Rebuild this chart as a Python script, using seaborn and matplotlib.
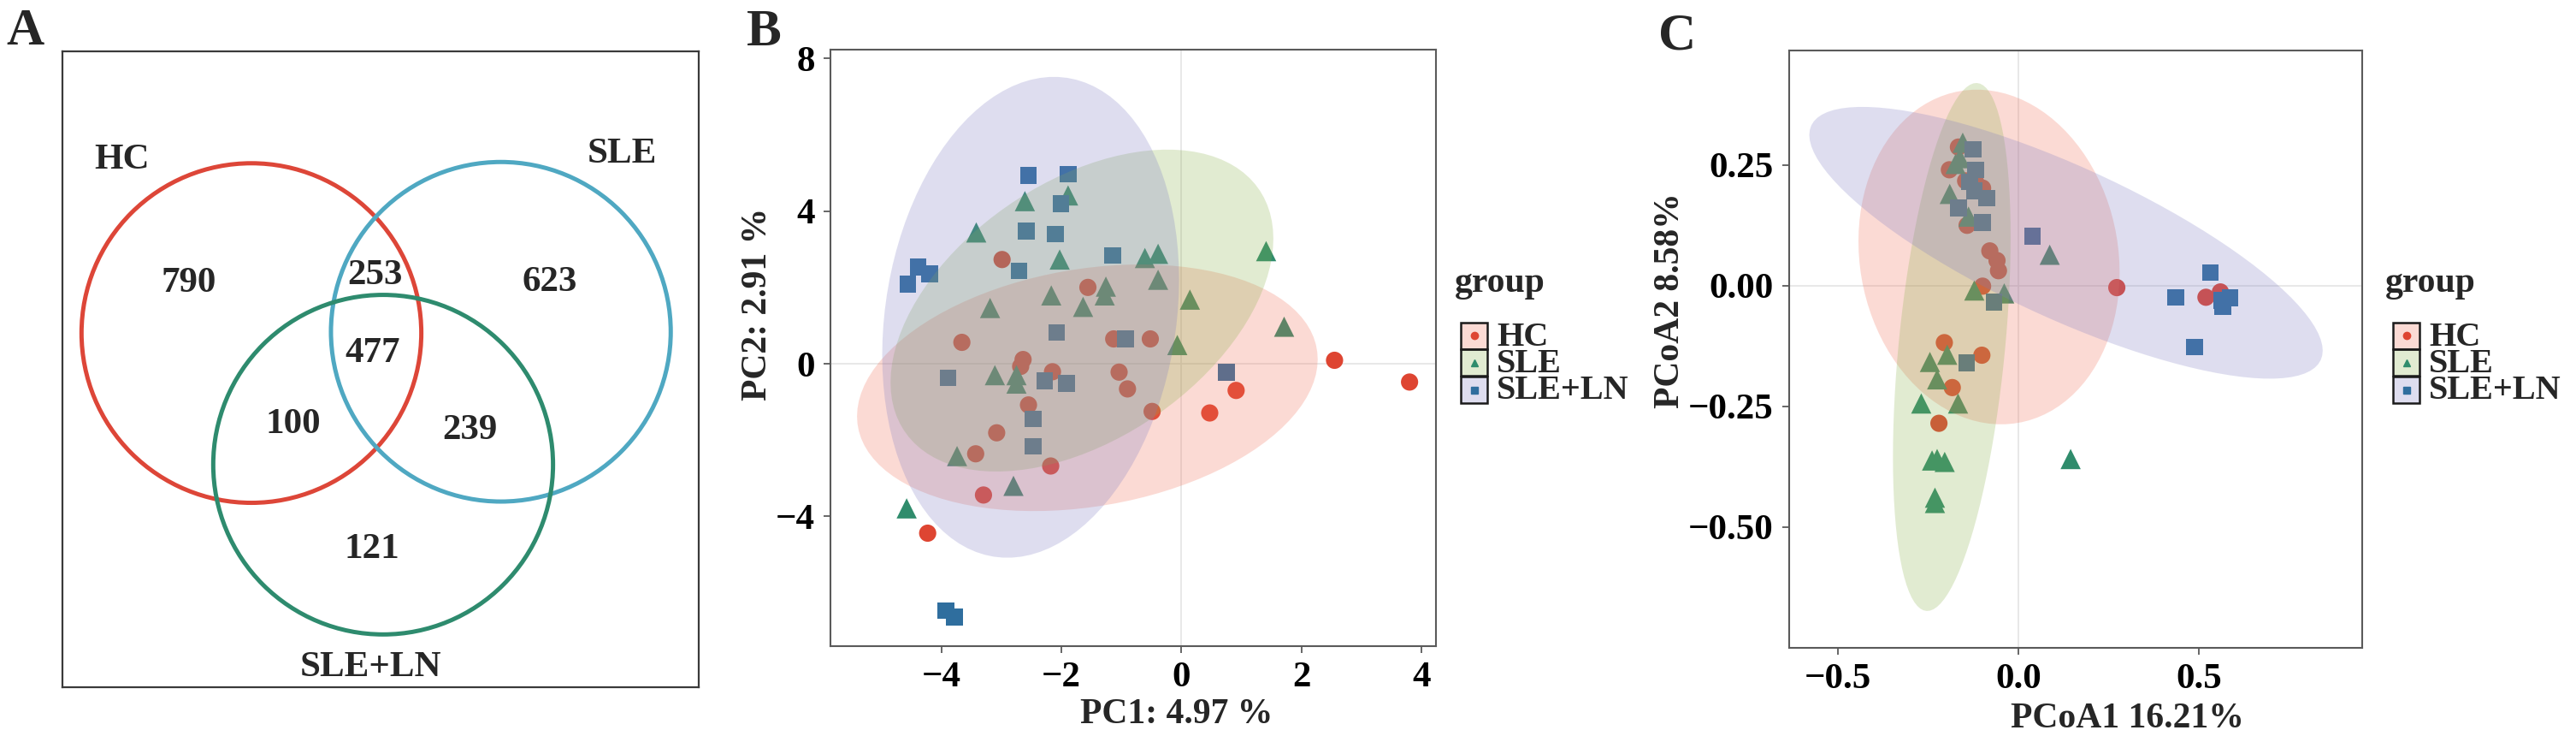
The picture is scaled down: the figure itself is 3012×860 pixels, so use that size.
import numpy as np
import pandas as pd
import matplotlib
matplotlib.use("Agg")
import matplotlib.pyplot as plt
from matplotlib.patches import Circle, Polygon, Rectangle
from matplotlib.lines import Line2D
import seaborn as sns

# ---- data ----
groups = ['HC', 'SLE', 'SLE+LN']
point_colors = ['#DE4532', '#2F8C6C', '#2F6E9E']
fill_colors = ['#F26E55', '#8AB04A', '#7C7BC2']
markers = ['o', '^', 's']
marker_sizes = [210, 290, 200]

# Venn (A)
venn_sets = ['HC', 'SLE', 'SLE+LN']
venn_colors = ['#DD4638', '#4FA8C2', '#2E8B6E']
venn_counts = [790, 253, 623, 477, 100, 239, 121]  # HC, HC&SLE, SLE, all, HC&LN, SLE&LN, LN

# PCA (B)
pca_hc_x = [-2.99, -1.56, -3.66, -1.13, -2.64, -2.68, -2.15, -1.04, -0.90, -0.52, 2.55,
            0.91, -2.55, -0.49, -3.08, -3.43, -2.18, -3.30, -4.23, 0.47, 3.80]
pca_hc_y = [2.73, 2.00, 0.56, 0.65, 0.11, -0.07, -0.21, -0.22, -0.66, 0.65, 0.09,
            -0.70, -1.08, -1.25, -1.81, -2.36, -2.68, -3.44, -4.44, -1.29, -0.48]
pca_sle_x = [-2.61, -1.89, -3.42, -2.03, -2.17, -1.64, -1.26, -1.28, -3.19, -3.11, -2.75,
             -2.75, -0.61, -0.39, -0.39, 0.14, 1.41, 1.71, -0.07, -3.74, -2.80, -4.58]
pca_sle_y = [4.26, 4.41, 3.44, 2.73, 1.79, 1.49, 2.02, 1.79, 1.46, -0.30, -0.30,
             -0.52, 2.77, 2.88, 2.20, 1.68, 2.95, 0.97, 0.49, -2.42, -3.20, -3.79]
pca_ln_x = [-4.56, -4.39, -4.20, -2.55, -1.89, -2.01, -2.59, -2.10, -2.71, -1.15,
            -2.08, -0.93, -3.89, -2.28, -1.92, 0.75, -2.47, -2.47, -3.93, -3.78]
pca_ln_y = [2.09, 2.54, 2.35, 4.93, 4.97, 4.19, 3.48, 3.40, 2.43, 2.84,
            0.82, 0.65, -0.37, -0.45, -0.52, -0.22, -1.45, -2.16, -6.47, -6.64]

# PCoA (C)
pcoa_hc_x = [-0.166, -0.191, -0.146, -0.118, -0.099, -0.142, -0.079, -0.059, -0.055, -0.099,
             0.273, -0.205, -0.101, -0.183, -0.220, 0.520, 0.560]
pcoa_hc_y = [0.287, 0.240, 0.217, 0.214, 0.202, 0.125, 0.072, 0.052, 0.031, -0.001,
             -0.004, -0.118, -0.144, -0.211, -0.285, -0.024, -0.013]
pcoa_sle_x = [-0.154, -0.162, -0.174, -0.190, -0.138, 0.087, -0.122, -0.039, -0.197, -0.245,
              -0.225, -0.269, -0.167, -0.239, -0.225, -0.204, -0.231, -0.231, 0.145]
pcoa_sle_y = [0.296, 0.264, 0.252, 0.190, 0.143, 0.064, -0.010, -0.016, -0.143, -0.158,
              -0.194, -0.244, -0.244, -0.362, -0.359, -0.365, -0.439, -0.450, -0.359]
pcoa_ln_x = [-0.126, -0.118, -0.122, -0.087, -0.166, -0.099, -0.135, 0.039, -0.067, -0.143,
             0.532, 0.437, 0.587, 0.567, 0.563, 0.488]
pcoa_ln_y = [0.282, 0.240, 0.196, 0.181, 0.161, 0.131, 0.215, 0.102, -0.034, -0.160,
             0.027, -0.024, -0.025, -0.044, -0.031, -0.127]

pca = pd.DataFrame({
    'x': pca_hc_x + pca_sle_x + pca_ln_x,
    'y': pca_hc_y + pca_sle_y + pca_ln_y,
    'group': ['HC'] * len(pca_hc_x) + ['SLE'] * len(pca_sle_x) + ['SLE+LN'] * len(pca_ln_x)})
pcoa = pd.DataFrame({
    'x': pcoa_hc_x + pcoa_sle_x + pcoa_ln_x,
    'y': pcoa_hc_y + pcoa_sle_y + pcoa_ln_y,
    'group': ['HC'] * len(pcoa_hc_x) + ['SLE'] * len(pcoa_sle_x) + ['SLE+LN'] * len(pcoa_ln_x)})

# ---- style ----
sns.set_style("white")
plt.rcParams['font.family'] = ['Liberation Serif', 'DejaVu Serif']
plt.rcParams['font.weight'] = 'bold'
plt.rcParams['axes.labelweight'] = 'bold'
plt.rcParams['axes.unicode_minus'] = True

W, H = 3012, 860
fig = plt.figure(figsize=(W / 100, H / 100), dpi=100)


def fx(px):
    return px / W


def fy(py):
    return 1 - py / H


def t_ellipse(x, y, level=0.9, nu=5, segments=100):
    # like ggplot2 stat_ellipse(type = "t"): MASS::cov.trob + F quantile
    X = np.column_stack([x, y])
    n, p = X.shape
    loc = X.mean(axis=0)
    w = np.ones(n)
    for _ in range(25):
        w0 = w
        Xc = X - loc
        _, d, vt = np.linalg.svd(np.sqrt(w / w.sum())[:, None] * Xc, full_matrices=False)
        Q = ((Xc @ vt.T / d) ** 2).sum(axis=1)
        w = (nu + p) / (nu + Q)
        loc = (w[:, None] * X).sum(axis=0) / w.sum()
        if np.all(np.abs(w - w0) < 0.01):
            break
    cov = (np.sqrt(w)[:, None] * Xc).T @ (np.sqrt(w)[:, None] * Xc) / n
    d2 = n - 1
    q = d2 / 2 * ((1 - level) ** (-2 / d2) - 1)
    radius = np.sqrt(2 * q)
    t = np.linspace(0, 2 * np.pi, segments + 1)
    circ = np.column_stack([np.cos(t), np.sin(t)])
    L = np.linalg.cholesky(cov)
    return loc + radius * circ @ L.T


def scatter_panel(ax, df):
    ax.axhline(0, color='#E4E4E4', lw=1.2, zorder=0)
    ax.axvline(0, color='#E4E4E4', lw=1.2, zorder=0)
    sns.scatterplot(data=df, x='x', y='y', hue='group', style='group', size='group',
                    hue_order=groups, style_order=groups, size_order=groups,
                    palette=dict(zip(groups, point_colors)),
                    markers=dict(zip(groups, markers)),
                    sizes=dict(zip(groups, marker_sizes)),
                    linewidth=0, legend=False, ax=ax, zorder=2)
    for g, c in zip(groups, fill_colors):
        sub = df[df['group'] == g]
        pts = t_ellipse(sub['x'].values, sub['y'].values)
        ax.add_patch(Polygon(pts, closed=True, facecolor=c, edgecolor='none',
                             alpha=0.25, zorder=3))
    for s in ax.spines.values():
        s.set_color('#5A5A5A')
        s.set_linewidth(1.5)
    ax.tick_params(direction='out', length=6, width=1.3, color='#5A5A5A',
                   labelcolor='black', bottom=True, left=True)


def draw_legend(x_title, x_key, x_text):
    fig.text(fx(x_title), fy(331), 'group', fontsize=30, fontweight='bold',
             ha='left', va='center')
    tops = [377, 408.5, 440]
    for g, pc, fc, m, top in zip(groups, point_colors, fill_colors, markers, tops):
        fig.add_artist(Rectangle((fx(x_key), fy(top + 31)), 31 / W, 31 / H,
                                 transform=fig.transFigure, facecolor=fc, alpha=0.25,
                                 edgecolor='none'))
        fig.add_artist(Rectangle((fx(x_key), fy(top + 31)), 31 / W, 31 / H,
                                 transform=fig.transFigure, facecolor='none',
                                 edgecolor='#1A1A1A', lw=1.8))
        fig.add_artist(Line2D([fx(x_key + 15.5)], [fy(top + 15.5)], marker=m,
                              color=pc, markersize=6, linestyle='none',
                              transform=fig.transFigure))
        fig.text(fx(x_text), fy(top + 17), g, fontsize=29, fontweight='bold',
                 ha='left', va='center')


# ---- A: Venn ----
axA = fig.add_axes([fx(73), fy(803), 744 / W, 743 / H])
axA.set_xlim(0, 100)
axA.set_ylim(0, 100)
axA.set_xticks([])
axA.set_yticks([])
for s in axA.spines.values():
    s.set_color('#3A3A3A')
    s.set_linewidth(1.6)
circle_xy = [(29.7, 55.7), (68.9, 55.9), (50.4, 35.0)]
for (cx, cy), c in zip(circle_xy, venn_colors):
    axA.add_patch(Circle((cx, cy), 26.7, fill=False, edgecolor=c, lw=3.6))
set_label_xy = [(9.3, 82.9), (88.0, 83.8), (48.4, 3.1)]
for name, (tx, ty) in zip(venn_sets, set_label_xy):
    axA.text(tx, ty, name, fontsize=31, fontweight='bold', ha='center', va='center')
count_xy = [(19.8, 63.5), (49.1, 64.7), (76.6, 63.7), (48.7, 52.5),
            (36.3, 41.3), (64.0, 40.4), (48.7, 21.7)]
for n, (tx, ty) in zip(venn_counts, count_xy):
    axA.text(tx, ty, str(n), fontsize=31, fontweight='bold', ha='center', va='center')

# ---- B: PCA ----
axB = fig.add_axes([fx(971), fy(755), 708 / W, 697 / H])
scatter_panel(axB, pca)
axB.set_xlim(-5.85, 4.24)
axB.set_ylim(-7.40, 8.23)
axB.set_xticks([-4, -2, 0, 2, 4])
axB.set_yticks([-4, 0, 4, 8])
axB.tick_params(labelsize=31, pad=7)
axB.set_xlabel('PC1: 4.97 %', fontsize=30, fontweight='bold')
axB.set_ylabel('PC2: 2.91 %', fontsize=30, fontweight='bold')
axB.xaxis.set_label_coords((1376 - 971) / 708, -80 / 697)
axB.xaxis.label.set_va('center')
axB.yaxis.set_label_coords(-(971 - 886) / 708, (755 - 355) / 697)
axB.yaxis.label.set_va('center')
draw_legend(1701, 1708, 1750)

# ---- C: PCoA ----
axC = fig.add_axes([fx(2092), fy(757), 670 / W, 698 / H])
scatter_panel(axC, pcoa)
axC.set_xlim(-0.635, 0.953)
axC.set_ylim(-0.750, 0.487)
axC.set_xticks([-0.5, 0.0, 0.5])
axC.set_xticklabels(['\u22120.5', '0.0', '0.5'])
axC.set_yticks([-0.5, -0.25, 0.0, 0.25])
axC.set_yticklabels(['\u22120.50', '\u22120.25', '0.00', '0.25'])
axC.tick_params(labelsize=31, pad=7)
axC.set_xlabel('PCoA1 16.21%', fontsize=30, fontweight='bold')
axC.set_ylabel('PCoA2 8.58%', fontsize=30, fontweight='bold')
axC.xaxis.set_label_coords((2487 - 2092) / 670, -83 / 698)
axC.xaxis.label.set_va('center')
axC.yaxis.set_label_coords(-(2092 - 1953) / 670, (757 - 351) / 698)
axC.yaxis.label.set_va('center')
draw_legend(2789, 2798, 2840)

# panel letters
for letter, px, py in [('A', 7, 52), ('B', 873, 53), ('C', 1939, 57)]:
    fig.text(fx(px), fy(py), letter, fontsize=44, fontweight='bold', ha='left', va='baseline')

fig.savefig('out.png', dpi=100)
